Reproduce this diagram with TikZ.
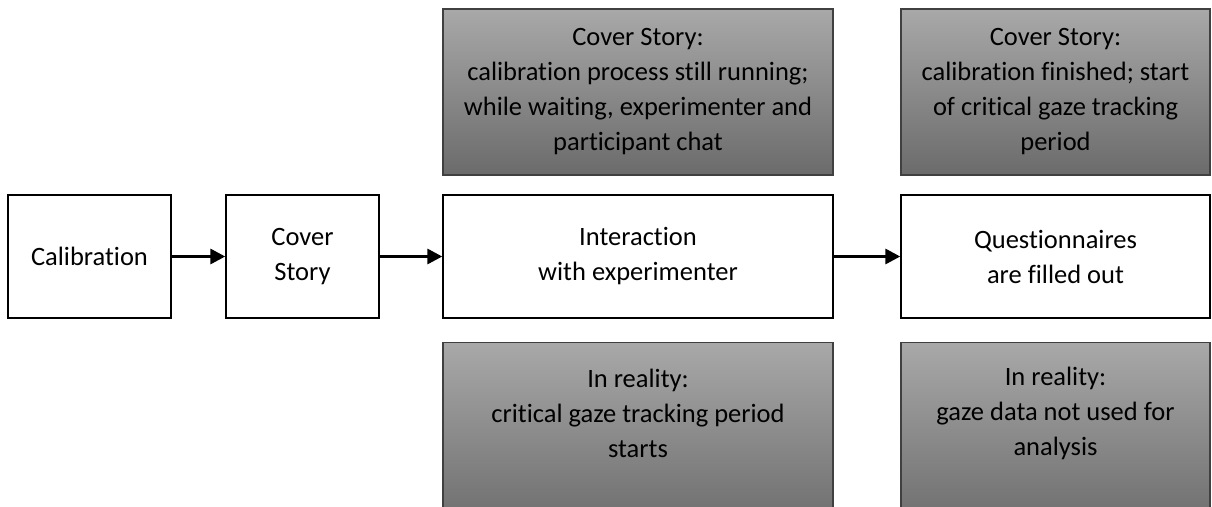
\documentclass[tikz,border=0pt]{standalone}
\usepackage{fontspec}
\setmainfont{Carlito}[Ligatures=CommonOff]
\usetikzlibrary{arrows.meta,positioning}

\definecolor{shadetop}{gray}{0.66}
\definecolor{shadebot}{gray}{0.42}
\definecolor{edgegray}{gray}{0.25}

\begin{document}
\begin{tikzpicture}[x=1pt,y=-1pt,
  boxtext/.style={align=center, font=\fontsize{26.5}{35}\selectfont},
  stepbox/.style={boxtext, draw=black, line width=1.4pt, inner sep=0pt, minimum height=123pt},
  greybox/.style={draw=edgegray, line width=1.2pt, top color=shadetop, bottom color=shadebot, inner sep=0pt},
  flow/.style={line width=3.2pt, -{Triangle[length=15pt,width=15pt]}}]
  \clip (0,0) rectangle (1212,506);
  \fill[white] (0,0) rectangle (1212,506);

  % main sequence
  \node[stepbox, minimum width=163pt] (calib) at (89.5,256.5) {Calibration};
  \node[stepbox, minimum width=153pt] (cover) at (302.5,256.5) {Cover\\Story};
  \node[stepbox, minimum width=390pt] (inter) at (638,256.5) {Interaction\\with experimenter};
  \node[stepbox, minimum width=309pt] (quest) at (1055.5,256.5) {Questionnaires\\are filled out};

  \draw[flow] (calib) -- (cover);
  \draw[flow] (cover) -- (inter);
  \draw[flow] (inter) -- (quest);

  % cover story boxes above
  \node[greybox, boxtext, minimum width=390pt, minimum height=166pt] (storyA) at (638,92)
    {Cover Story:\\calibration process still running;\\while waiting, experimenter and\\participant chat};
  \node[greybox, boxtext, minimum width=309pt, minimum height=166pt] (storyB) at (1055.5,92)
    {Cover Story:\\calibration finished; start\\of critical gaze tracking\\period};

  % reality boxes below (run past the lower edge)
  \node[greybox, minimum width=390pt, minimum height=190pt, anchor=north] (realA) at (638,342) {};
  \node[greybox, minimum width=309pt, minimum height=190pt, anchor=north] (realB) at (1055.5,342) {};
  \node[boxtext] (realAtxt) at (638,413) {In reality:\\critical gaze tracking period\\starts};
  \node[boxtext] (realBtxt) at (1055.5,413) {In reality:\\gaze data not used for\\analysis};
\end{tikzpicture}
\end{document}
